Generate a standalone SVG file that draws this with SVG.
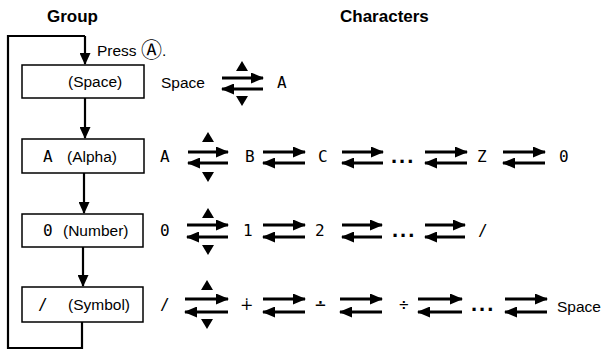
<svg xmlns="http://www.w3.org/2000/svg" width="603" height="351" viewBox="0 0 603 351">
<style>
.t{font-family:"Liberation Sans","DejaVu Sans","Noto Sans CJK JP",sans-serif;font-size:15.5px;fill:#000}
.c{font-family:"DejaVu Sans","Noto Sans CJK JP",sans-serif;font-size:21px}
.h{font-family:"Liberation Sans",sans-serif;font-size:17px;font-weight:bold;fill:#000}
.lcd{font-family:"DejaVu Sans Mono","Liberation Mono",monospace;font-size:16px;fill:#000}
.dots{font-family:"Liberation Sans",sans-serif;font-size:22px;font-weight:bold;letter-spacing:2px;fill:#000}
.box{fill:#fff;stroke:#000;stroke-width:1.5}
.ln{stroke:#000;stroke-width:2.2;fill:none}
.ar{stroke:#000;stroke-width:3;fill:none}
.tri{fill:#000}
</style>
<defs>
<marker id="ah" markerUnits="userSpaceOnUse" markerWidth="13" markerHeight="11" refX="12" refY="5.5" orient="auto">
<path d="M0,0 L13,5.5 L0,11 z" fill="#000"/>
</marker>
<marker id="av" markerUnits="userSpaceOnUse" markerWidth="12" markerHeight="11" refX="11" refY="5.5" orient="auto">
<path d="M0,0 L12,5.5 L0,11 z" fill="#000"/>
</marker>
</defs>

<text class="h" x="47" y="22">Group</text>
<text class="h" x="340" y="22">Characters</text>

<g id="connectors">
<polyline class="ln" points="85,36 8,36 8,348 82,348 82,322"/>
<line class="ln" x1="85" y1="36" x2="85" y2="64" marker-end="url(#av)"/>
<line class="ln" x1="85" y1="98" x2="85" y2="138" marker-end="url(#av)"/>
<line class="ln" x1="84" y1="173" x2="84" y2="213" marker-end="url(#av)"/>
<line class="ln" x1="83" y1="247" x2="83" y2="286" marker-end="url(#av)"/>
</g>
<text class="t" x="97" y="56">Press <tspan class="c" dy="1">Ⓐ</tspan><tspan dy="-1">.</tspan></text>

<g id="node-space">
<rect class="box" x="22" y="65" width="122" height="33"/>
<text class="t" x="68" y="87">(Space)</text>
</g>
<g id="node-alpha">
<rect class="box" x="22" y="139" width="122" height="34"/>
<text class="lcd" x="43" y="162">A</text>
<text class="t" x="67" y="162">(Alpha)</text>
</g>
<g id="node-number">
<rect class="box" x="22" y="214" width="121" height="33"/>
<text class="lcd" x="43" y="236">0</text>
<text class="t" x="63" y="236">(Number)</text>
</g>
<g id="node-symbol">
<rect class="box" x="22" y="287" width="121" height="35"/>
<text class="lcd" x="38" y="310">/</text>
<text class="t" x="68" y="310">(Symbol)</text>
</g>

<g id="row1">
<text class="t" x="161" y="88">Space</text>
<line class="ar" x1="222" y1="78" x2="263" y2="78" marker-end="url(#ah)"/>
<line class="ar" x1="263" y1="89" x2="222" y2="89" marker-end="url(#ah)"/>
<polygon class="tri" points="242,61 248,71 236,71"/>
<polygon class="tri" points="236,96 248,96 242,106"/>
<text class="lcd" x="277" y="88">A</text>
</g>

<g id="row2">
<text class="lcd" x="160" y="162">A</text>
<polygon class="tri" points="208,132 214,142 202,142"/>
<polygon class="tri" points="202,172 214,172 208,182"/>
<line class="ar" x1="188" y1="152" x2="228" y2="152" marker-end="url(#ah)"/>
<line class="ar" x1="228" y1="163" x2="188" y2="163" marker-end="url(#ah)"/>
<text class="lcd" x="245" y="162">B</text>
<line class="ar" x1="263" y1="152" x2="305" y2="152" marker-end="url(#ah)"/>
<line class="ar" x1="305" y1="163" x2="263" y2="163" marker-end="url(#ah)"/>
<text class="lcd" x="318" y="162">C</text>
<line class="ar" x1="342" y1="152" x2="383" y2="152" marker-end="url(#ah)"/>
<line class="ar" x1="383" y1="163" x2="342" y2="163" marker-end="url(#ah)"/>
<text class="dots" x="391" y="163">...</text>
<line class="ar" x1="425" y1="152" x2="467" y2="152" marker-end="url(#ah)"/>
<line class="ar" x1="467" y1="163" x2="425" y2="163" marker-end="url(#ah)"/>
<text class="lcd" x="477" y="162">Z</text>
<line class="ar" x1="503" y1="152" x2="545" y2="152" marker-end="url(#ah)"/>
<line class="ar" x1="545" y1="163" x2="503" y2="163" marker-end="url(#ah)"/>
<text class="lcd" x="559" y="162">0</text>
</g>

<g id="row3">
<text class="lcd" x="160" y="236">0</text>
<polygon class="tri" points="208,208 214,218 202,218"/>
<polygon class="tri" points="202,245 214,245 208,255"/>
<line class="ar" x1="187" y1="225" x2="228" y2="225" marker-end="url(#ah)"/>
<line class="ar" x1="228" y1="237" x2="187" y2="237" marker-end="url(#ah)"/>
<text class="lcd" x="243" y="236">1</text>
<line class="ar" x1="263" y1="225" x2="305" y2="225" marker-end="url(#ah)"/>
<line class="ar" x1="305" y1="237" x2="263" y2="237" marker-end="url(#ah)"/>
<text class="lcd" x="315" y="236">2</text>
<line class="ar" x1="342" y1="225" x2="382" y2="225" marker-end="url(#ah)"/>
<line class="ar" x1="382" y1="237" x2="342" y2="237" marker-end="url(#ah)"/>
<text class="dots" x="392" y="237">...</text>
<line class="ar" x1="425" y1="225" x2="465" y2="225" marker-end="url(#ah)"/>
<line class="ar" x1="465" y1="237" x2="425" y2="237" marker-end="url(#ah)"/>
<text class="lcd" x="478" y="236">/</text>
</g>

<g id="row4">
<text class="lcd" x="160" y="310">/</text>
<polygon class="tri" points="207,280 213,290 201,290"/>
<polygon class="tri" points="201,319 213,319 207,329"/>
<line class="ar" x1="185" y1="299" x2="228" y2="299" marker-end="url(#ah)"/>
<line class="ar" x1="228" y1="312" x2="185" y2="312" marker-end="url(#ah)"/>
<text class="lcd" x="240" y="310">∔</text>
<line class="ar" x1="263" y1="299" x2="305" y2="299" marker-end="url(#ah)"/>
<line class="ar" x1="305" y1="312" x2="263" y2="312" marker-end="url(#ah)"/>
<text class="lcd" x="315" y="311" style="font-size:18px">∸</text>
<line class="ar" x1="340" y1="299" x2="382" y2="299" marker-end="url(#ah)"/>
<line class="ar" x1="382" y1="312" x2="340" y2="312" marker-end="url(#ah)"/>
<text class="lcd" x="399" y="310">÷</text>
<line class="ar" x1="418" y1="299" x2="462" y2="299" marker-end="url(#ah)"/>
<line class="ar" x1="462" y1="312" x2="418" y2="312" marker-end="url(#ah)"/>
<text class="dots" x="471" y="311">...</text>
<line class="ar" x1="505" y1="299" x2="547" y2="299" marker-end="url(#ah)"/>
<line class="ar" x1="547" y1="312" x2="505" y2="312" marker-end="url(#ah)"/>
<text class="t" x="557" y="312">Space</text>
</g>
</svg>
